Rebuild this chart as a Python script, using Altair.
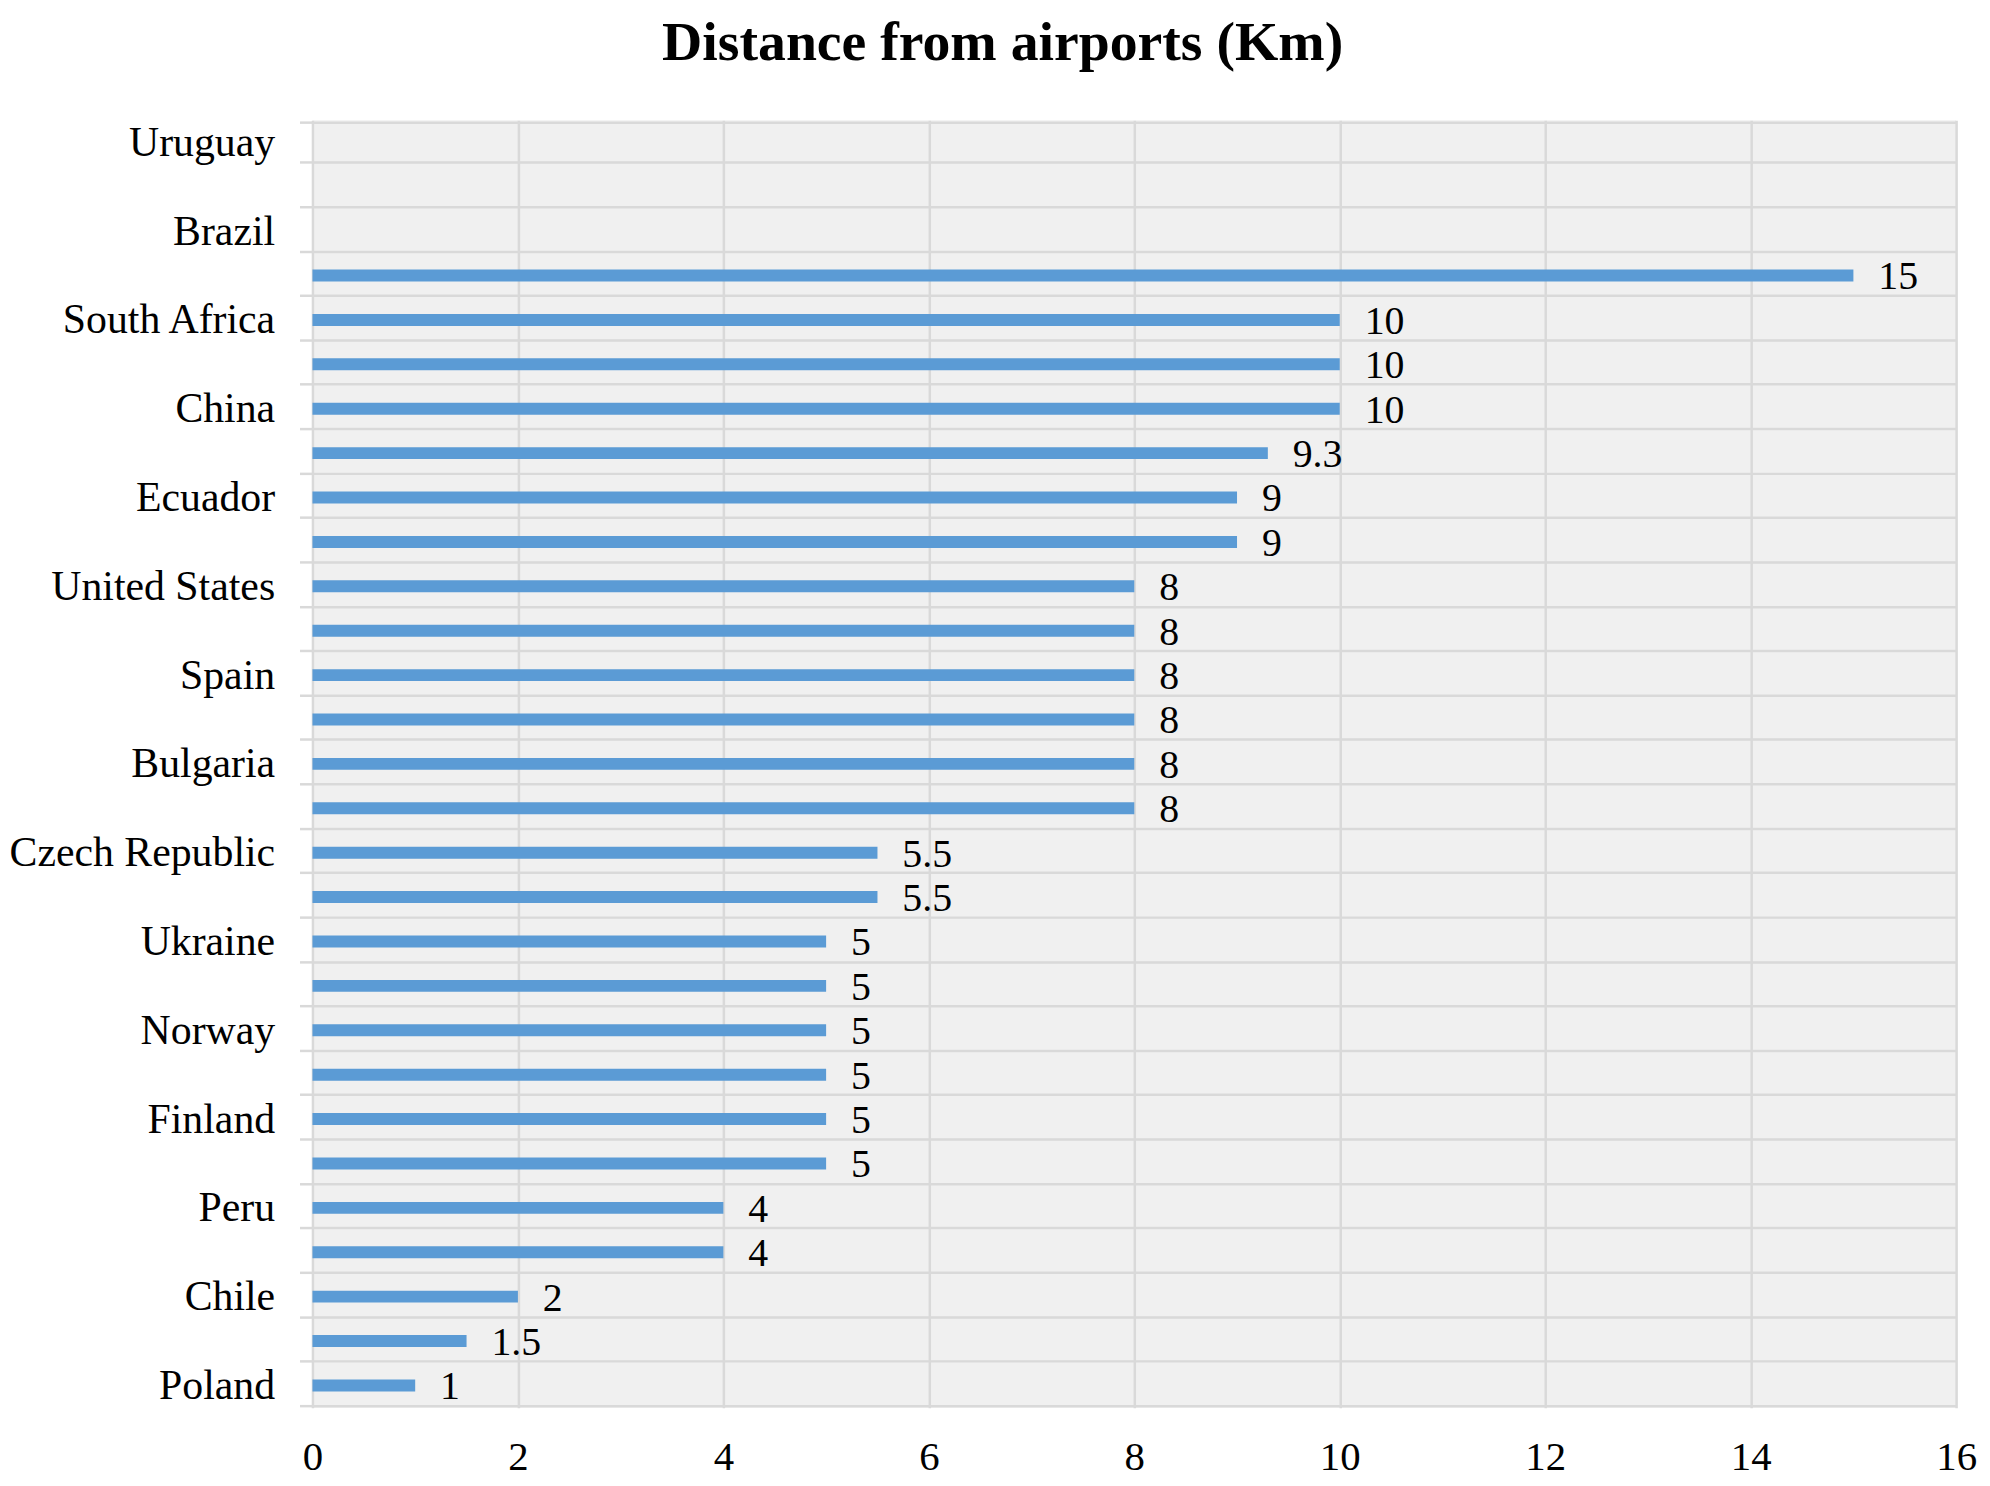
import altair as alt
import pandas as pd

labels = ["Uruguay", "", "Brazil", "", "South Africa", "", "China", "", "Ecuador", "",
          "United States", "", "Spain", "", "Bulgaria", "", "Czech Republic", "",
          "Ukraine", "", "Norway", "", "Finland", "", "Peru", "", "Chile", "", "Poland"]
values = [None, None, None, 15, 10, 10, 10, 9.3, 9, 9, 8, 8, 8, 8, 8, 8, 5.5, 5.5,
          5, 5, 5, 5, 5, 5, 4, 4, 2, 1.5, 1]
x_ticks = [0, 2, 4, 6, 8, 10, 12, 14, 16]

idx = list(range(len(labels)))
df = pd.DataFrame({"idx": idx, "label": labels, "v": values})

label_expr = "[" + ",".join("'" + l + "'" for l in labels) + "][datum.value]"

FONT = "Liberation Serif"
GRID = "#d9d9d9"

y_enc = alt.Y("idx:O", title=None,
              scale=alt.Scale(domain=idx),
              axis=alt.Axis(labelExpr=label_expr, labelFont=FONT, labelFontSize=42,
                            labelColor="black", labelPadding=25, labelLimit=0,
                            tickSize=13, tickColor=GRID, tickWidth=2.5, tickBand="extent",
                            grid=True, gridColor=GRID, gridWidth=2.5, domain=False))
x_enc = alt.X("v:Q", title=None,
              scale=alt.Scale(domain=[0, 16], nice=False),
              axis=alt.Axis(values=x_ticks, labelFont=FONT, labelFontSize=41,
                            labelColor="black", labelPadding=30, ticks=False,
                            labelFlush=False,
                            grid=True, gridColor=GRID, gridWidth=2.5, domain=False))

base = alt.Chart(df)
bars = base.mark_bar(size=12, color="#5B9BD5").encode(y=y_enc, x=x_enc)
text = base.transform_filter("isValid(datum.v)").mark_text(
    align="left", baseline="middle", dx=25, dy=2, font=FONT, fontSize=40, color="black"
).encode(y=y_enc, x=x_enc, text=alt.Text("v:Q"))

chart = alt.layer(bars, text).properties(
    width=1652, height=1294,
    background="white",
    padding={"left": 0, "top": 4, "right": 5, "bottom": 0},
    title=alt.TitleParams("Distance from airports (Km)", font=FONT, fontSize=56,
                          fontWeight="bold", color="black", anchor="middle",
                          frame="bounds", offset=27, dx=10),
).configure_view(stroke=None, fill="#f0f0f0")

chart.save("out.html", embed_options={"renderer": "svg", "actions": False})
